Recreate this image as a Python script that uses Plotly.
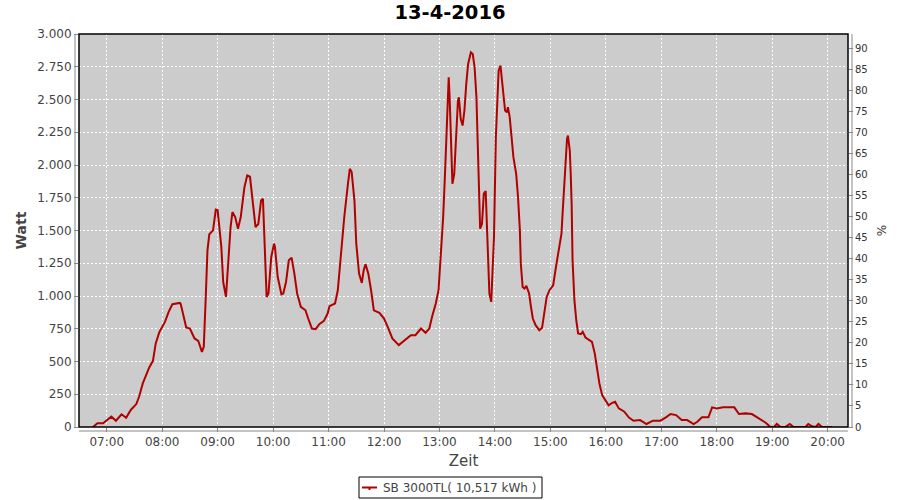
import plotly.graph_objects as go

DAY = "2016-04-13 "

times = ["06:45","06:50","06:56","07:05","07:10","07:16","07:21","07:26","07:32","07:35",
         "07:39","07:43","07:46","07:50","07:53","07:57","08:03","08:07","08:11","08:19",
         "08:20","08:26","08:30","08:35","08:39","08:43","08:45","08:47","08:49","08:51",
         "08:55","08:58","09:00","09:04","09:06","09:09","09:12","09:14","09:16","09:19",
         "09:22","09:25","09:29","09:32","09:35","09:38","09:41","09:44","09:47","09:49",
         "09:51","09:53","09:55","09:58","10:01","10:02","10:05","10:09","10:11","10:14",
         "10:17","10:20","10:23","10:26","10:30","10:35","10:38","10:42","10:46","10:50",
         "10:55","10:59","11:01","11:07","11:10","11:13","11:17","11:21","11:23","11:25",
         "11:28","11:30","11:33","11:36","11:38","11:40","11:43","11:46","11:49","11:55",
         "12:00","12:04","12:09","12:16","12:24","12:29","12:34","12:40","12:45","12:49",
         "12:52","12:56","12:59","13:01","13:04","13:06","13:08","13:09","13:10","13:11",
         "13:13","13:14","13:16","13:18","13:20","13:21","13:23","13:25","13:27","13:29",
         "13:31","13:34","13:36","13:38","13:40","13:41","13:43","13:44","13:46","13:48",
         "13:50","13:51","13:52","13:54","13:56","13:57","13:59","14:01","14:03","14:04",
         "14:06","14:07","14:09","14:11","14:13","14:14","14:16","14:18","14:20","14:23",
         "14:25","14:27","14:28","14:30","14:32","14:34","14:37","14:39","14:41","14:44",
         "14:48","14:51","14:53","14:56","14:59","15:03","15:06","15:09","15:12","15:13",
         "15:15","15:16","15:18","15:19","15:21","15:22","15:23","15:24","15:26","15:28",
         "15:30","15:33","15:35","15:38","15:41","15:45","15:48","15:50","15:53","15:56",
         "16:00","16:03","16:07","16:10","16:14","16:20","16:25","16:30","16:37","16:44",
         "16:51","16:59","17:05","17:10","17:16","17:22","17:28","17:35","17:39","17:44",
         "17:51","17:55","18:00","18:07","18:15","18:19","18:24","18:31","18:38","18:46",
         "18:53","18:58","19:02","19:05","19:09","19:14","19:19","19:23","19:36","19:39",
         "19:43","19:47","19:50","19:54","20:05"]

watt = [0,28,28,79,48,97,71,130,175,231,
        333,409,455,505,638,726,802,879,937,947,
        940,760,752,676,658,574,612,968,1349,1471,
        1501,1659,1654,1374,1107,993,1298,1526,1641,1603,
        1514,1603,1831,1920,1910,1705,1526,1550,1730,1743,
        1374,993,1019,1298,1400,1374,1145,1013,1019,1107,
        1273,1293,1171,1019,917,891,828,752,747,785,
        810,866,922,943,1044,1298,1603,1857,1971,1946,
        1730,1400,1171,1100,1196,1242,1171,1044,891,871,
        828,764,676,625,668,701,701,752,719,752,
        841,943,1044,1247,1603,1933,2390,2619,2669,2517,
        2136,1857,1933,2212,2492,2517,2352,2301,2416,2619,
        2771,2860,2848,2746,2517,2263,1781,1514,1552,1781,
        1801,1603,1273,1019,955,1095,1450,2212,2568,2720,
        2758,2695,2568,2416,2403,2441,2365,2212,2060,1933,
        1755,1501,1247,1069,1057,1077,1019,917,828,777,
        739,757,866,993,1044,1082,1220,1349,1476,1603,
        1831,2009,2200,2225,2111,1933,1705,1273,968,815,
        714,709,726,683,668,650,562,459,333,244,
        200,165,185,193,142,117,72,48,53,23,
        48,48,74,99,91,53,53,23,40,74,
        74,150,142,150,150,150,99,104,99,66,
        33,0,0,23,0,0,23,0,0,23,
        5,0,23,0,0]

series_name = "SB 3000TL( 10,517 kWh )"
chart_title = "13-4-2016"
watt_ticks = list(range(0, 3001, 250))
pct_ticks = list(range(0, 91, 5))
x_start, x_end = DAY + "06:30", DAY + "20:22"
y_max = 3000
pct_max = 93.4

x = [DAY + t for t in times]

font = "DejaVu Sans"
txt = "#444444"
axis_gray = "#888888"
line_red = "#B00000"

W, H = 900, 500
ML, MR, MT, MB = 79, 52, 34, 73
PW, PH = W - ML - MR, H - MT - MB


def px_x(px):
    return (px - ML) / PW


def px_y(py):
    return (H - MB - py) / PH


fig = go.Figure()
fig.add_trace(go.Scatter(x=x, y=watt, mode="lines", name=series_name,
                         line=dict(color=line_red, width=2), showlegend=False))
fig.add_trace(go.Scatter(x=[x[0]], y=[None], yaxis="y2", mode="lines",
                         showlegend=False, hoverinfo="skip"))

fig.update_layout(
    width=W, height=H,
    margin=dict(l=ML, r=MR, t=MT, b=MB, autoexpand=False),
    paper_bgcolor="white", plot_bgcolor="#CCCCCC",
    separators=",.",
    font=dict(family=font, size=12, color=txt),
    title=dict(text="<b>" + chart_title + "</b>", x=0.5, xanchor="center",
               y=1 - 12.5 / H, yanchor="middle", font=dict(size=19.5, color="black", family=font)),
    xaxis=dict(type="date", range=[x_start, x_end], tickformat="%H:%M",
               dtick=3600000, tick0=DAY + "07:00",
               showgrid=True, gridcolor="white", griddash="2px,2px", gridwidth=1,
               ticks="outside", ticklen=4, tickcolor=axis_gray, showline=False,
               zeroline=False, tickfont=dict(size=12, color=txt),
               title=dict(text="Zeit", font=dict(size=15, color=txt), standoff=7)),
    yaxis=dict(range=[0, y_max], tickvals=watt_ticks, tickformat=",d",
               showgrid=True, gridcolor="white", griddash="2px,2px", gridwidth=1,
               ticks="outside", ticklen=4, tickcolor=axis_gray, showline=False,
               zeroline=False, tickfont=dict(size=12, color=txt),
               title=dict(text="<b>Watt</b>", font=dict(size=14, color=txt), standoff=7)),
    yaxis2=dict(range=[0, pct_max], tickvals=pct_ticks, overlaying="y", side="right",
                showgrid=False, zeroline=False, ticks="outside", ticklen=4,
                tickcolor=axis_gray, showline=False,
                tickfont=dict(size=10, color="#333333"),
                title=dict(text="%", font=dict(size=12, color="#333333"), standoff=10)),
    showlegend=False,
)

# plot-area frame
fig.add_shape(type="rect", xref="x domain", yref="y domain", x0=0, x1=1, y0=0, y1=1,
              line=dict(color="black", width=1.5), layer="above")
# offset axis lines (gray)
off_x = 4 / PW
off_y = 4 / PH
fig.add_shape(type="line", xref="x domain", yref="y domain", x0=-off_x, x1=-off_x, y0=0, y1=1,
              line=dict(color=axis_gray, width=1))
fig.add_shape(type="line", xref="x domain", yref="y domain", x0=1 + off_x, x1=1 + off_x, y0=0, y1=1,
              line=dict(color=axis_gray, width=1))
fig.add_shape(type="line", xref="x domain", yref="y domain", x0=0, x1=1, y0=-off_y, y1=-off_y,
              line=dict(color=axis_gray, width=1))

# legend box (JFreeChart style: short line symbol, black frame)
fig.add_shape(type="rect", xref="paper", yref="paper",
              x0=px_x(359), x1=px_x(542), y0=px_y(498), y1=px_y(477),
              line=dict(color="black", width=1), fillcolor="white")
fig.add_shape(type="line", xref="paper", yref="paper",
              x0=px_x(362), x1=px_x(377), y0=px_y(487.5), y1=px_y(487.5),
              line=dict(color=line_red, width=2))
fig.add_shape(type="line", xref="paper", yref="paper",
              x0=px_x(369.5), x1=px_x(369.5), y0=px_y(487.5), y1=px_y(490),
              line=dict(color=line_red, width=2))
fig.add_annotation(text=series_name, xref="paper", yref="paper",
                   x=px_x(381), y=px_y(487.5), xanchor="left", yanchor="middle",
                   showarrow=False, font=dict(size=12, color=txt, family=font))

fig.write_html("out.html", config={"displayModeBar": False},
               post_script="document.body.style.margin='0';")
